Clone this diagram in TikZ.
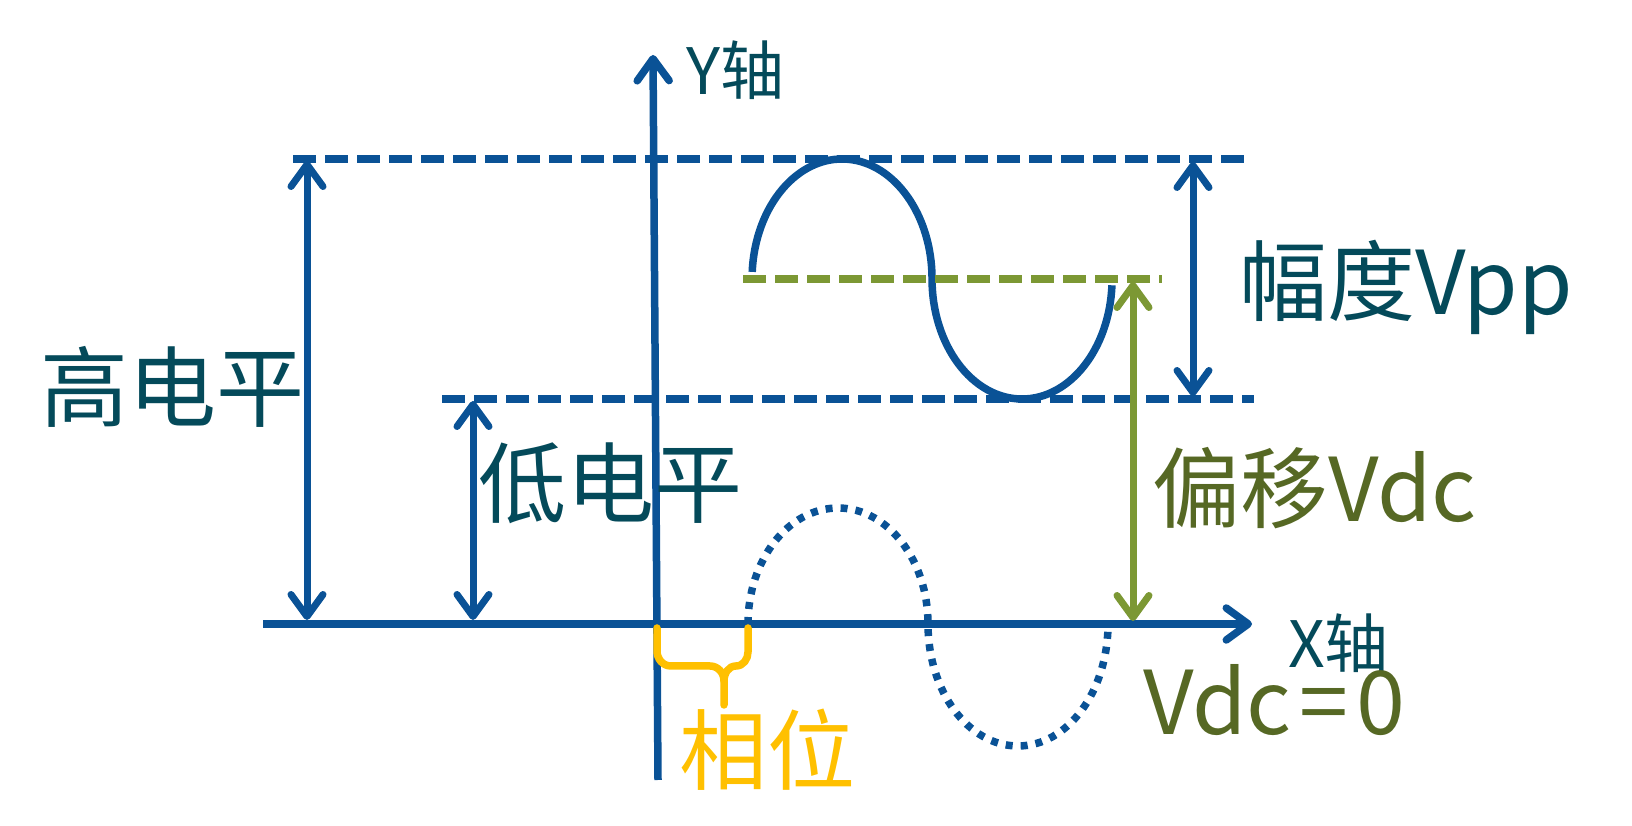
\documentclass[tikz,border=0pt]{standalone}
\usepackage{fontspec}
\newfontfamily\cjk{Noto Sans CJK SC}
\usetikzlibrary{arrows.meta}
\definecolor{lblue}{RGB}{10,82,150}
\definecolor{tealtxt}{RGB}{4,74,90}
\definecolor{lgreen}{RGB}{124,152,52}
\definecolor{gtxt}{RGB}{86,104,36}
\definecolor{ylw}{RGB}{255,192,0}
\begin{document}
\begin{tikzpicture}[x=1pt,y=1pt,
  ln/.style={line width=7.5pt},
  dsh/.style={line width=7.5pt, dash pattern=on 23pt off 9pt},
  dotw/.style={line width=7.5pt, dash pattern=on 7pt off 8pt},
  barb/.tip={Straight Barb[length=22pt,width=32pt,round]},
  dbl/.style={line width=7pt, barb-barb},
  sgl/.style={line width=7.5pt, -barb},
  lbl/.style={inner sep=0pt, anchor=base west, font=\cjk\fontsize{88}{88}\selectfont},
  axl/.style={inner sep=0pt, anchor=base west, font=\cjk\fontsize{64}{64}\selectfont, text=tealtxt}]
\useasboundingbox (0,0) rectangle (1632,826);
% coordinates
\coordinate (ytop) at (653,771);
\coordinate (ybot) at (658,46);
\coordinate (xl) at (263,202);
\coordinate (xr) at (1252,202);
\coordinate (hiL) at (293,667);
\coordinate (hiR) at (1246,667);
\coordinate (loL) at (442,427);
\coordinate (loR) at (1254,427);
\coordinate (midL) at (743,547);
\coordinate (midR) at (1162,547);
\coordinate (a1t) at (307,665);
\coordinate (a1b) at (307,206);
\coordinate (a2t) at (473,425);
\coordinate (a2b) at (473,206);
\coordinate (a3t) at (1193,664);
\coordinate (a3b) at (1193,430);
\coordinate (a4t) at (1133,544);
\coordinate (a4b) at (1133,205);
\coordinate (sw) at (752.2,554.1);
\coordinate (dw) at (748,202);
% dashed levels
\draw[dsh, lblue] (hiL) -- (hiR);
\draw[dsh, lblue] (loL) -- (loR);
% solid sine
\draw[ln, lblue] (sw) arc[start angle=176.6, end angle=0, x radius=90, y radius=120]
  arc[start angle=180, end angle=357, x radius=90, y radius=120];
% green midline
\draw[dsh, lgreen] (midL) -- (midR);
% axes
\draw[sgl, lblue] (xl) -- (xr);
\draw[sgl, lblue] (ybot) -- (ytop);
% dotted wave
\draw[dotw, lblue] (dw) arc[start angle=180, end angle=0, x radius=90, y radius=116]
  arc[start angle=180, end angle=360, x radius=90, y radius=122];
% measurement arrows
\draw[dbl, lblue] (a1t) -- (a1b);
\draw[dbl, lblue] (a2t) -- (a2b);
\draw[dbl, lblue] (a3t) -- (a3b);
\draw[dbl, lgreen] (a4t) -- (a4b);
% phase brace
\draw[ylw, line width=7.5pt, line cap=round, line join=round]
  (657,198) -- (657,175) to[out=-90,in=180] (671,160) -- (710,160)
  to[out=0,in=90] (724,145) -- (724,121);
\draw[ylw, line width=7.5pt, line cap=round, line join=round]
  (724,145) to[out=90,in=180] (736,160) to[out=0,in=-90] (748,174) -- (748,198);
% labels
\node[axl] (ylab) at (686,731) {Y轴};
\node[axl] (xlab) at (1288,158) {X轴};
\node[lbl, text=tealtxt] (hi) at (40,405) {高电平};
\node[lbl, text=tealtxt] (lo) at (478,309) {低电平};
\node[lbl, text=tealtxt] (vpp) at (1239,511) {幅度Vpp};
\node[lbl, text=gtxt] (vdc) at (1152,304) {偏移Vdc};
\node[lbl, text=gtxt] (vdc0) at (1143,91) {Vdc\kern8pt=\kern8pt0};
\node[lbl, text=ylw] (ph) at (679,42) {相位};
\end{tikzpicture}
\end{document}
